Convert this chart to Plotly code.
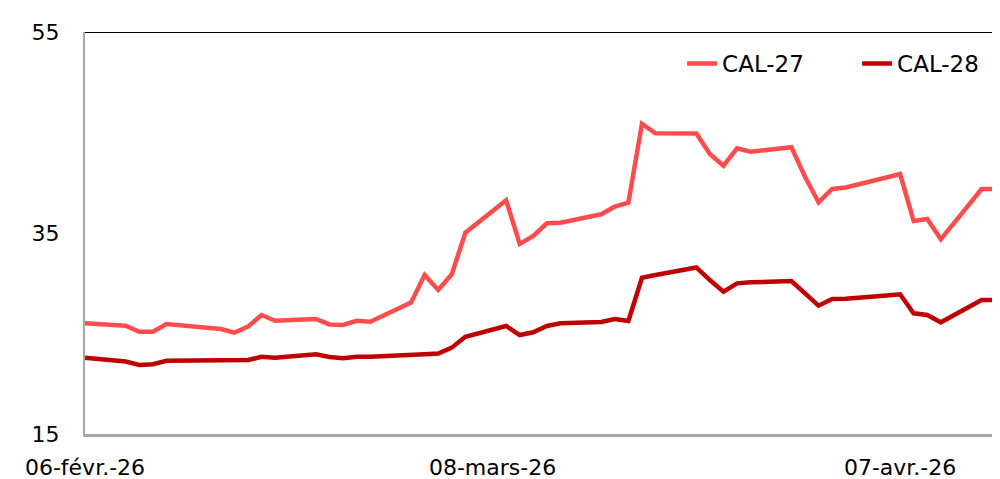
import plotly.graph_objects as go

dates = [
    "2026-02-06", "2026-02-09", "2026-02-10", "2026-02-11", "2026-02-12", "2026-02-13",
    "2026-02-16", "2026-02-17", "2026-02-18", "2026-02-19", "2026-02-20",
    "2026-02-23", "2026-02-24", "2026-02-25", "2026-02-26", "2026-02-27",
    "2026-03-02", "2026-03-03", "2026-03-04", "2026-03-05", "2026-03-06",
    "2026-03-09", "2026-03-10", "2026-03-11", "2026-03-12", "2026-03-13",
    "2026-03-16", "2026-03-17", "2026-03-18", "2026-03-19", "2026-03-20",
    "2026-03-23", "2026-03-24", "2026-03-25", "2026-03-26", "2026-03-27",
    "2026-03-30", "2026-03-31", "2026-04-01", "2026-04-02", "2026-04-03",
    "2026-04-06", "2026-04-07", "2026-04-08", "2026-04-09", "2026-04-10",
    "2026-04-13", "2026-04-14",
]

cal27 = [
    26.01, 25.78, 25.18, 25.18, 25.95, 25.82,
    25.45, 25.08, 25.68, 26.84, 26.27,
    26.44, 25.90, 25.85, 26.27, 26.17,
    28.07, 30.82, 29.33, 30.89, 35.03,
    38.25, 33.91, 34.70, 35.97, 36.03,
    36.86, 37.62, 38.01, 45.85, 44.92,
    44.90, 42.86, 41.70, 43.43, 43.09,
    43.53, 40.60, 38.05, 39.38, 39.53,
    40.52, 40.87, 36.19, 36.39, 34.37,
    39.38, 39.38,
]

cal28 = [
    22.59, 22.21, 21.87, 21.94, 22.29, 22.29,
    22.28, 22.26, 22.36, 22.69, 22.59,
    22.93, 22.66, 22.53, 22.69, 22.69,
    22.81, 22.93, 23.01, 23.59, 24.68,
    25.75, 24.85, 25.12, 25.75, 26.01,
    26.14, 26.44, 26.24, 30.55, 30.82,
    31.57, 30.32, 29.16, 29.99, 30.09,
    30.22, 29.03, 27.77, 28.43, 28.46,
    28.78, 28.90, 27.01, 26.84, 26.11,
    28.33, 28.33,
]

x_tickvals = ["2026-02-06", "2026-03-08", "2026-04-07"]
x_ticktext = ["06-févr.-26", "08-mars-26", "07-avr.-26"]
y_tickvals = [15, 35, 55]

FONT = "DejaVu Sans"

fig = go.Figure()
fig.add_trace(go.Scatter(x=dates, y=cal27, mode="lines", name="CAL-27",
                         line=dict(color="#FF4D4D", width=4.5)))
fig.add_trace(go.Scatter(x=dates, y=cal28, mode="lines", name="CAL-28",
                         line=dict(color="#C00000", width=4.5)))

fig.add_shape(type="line", xref="paper", yref="y", x0=0, x1=1, y0=55, y1=55,
              line=dict(color="#000000", width=2), layer="above")

# The page body has an 8px margin; the figure is sized to fill the rest.
fig.update_layout(
    width=992, height=471,
    margin=dict(l=77, r=2, t=24, b=45, autoexpand=False),
    paper_bgcolor="white", plot_bgcolor="white",
    font=dict(family=FONT, size=22, color="#000000"),
    showlegend=True,
    legend=dict(orientation="h", x=0.654, xanchor="left", y=0.975, yanchor="top",
                font=dict(family=FONT, size=23, color="#000000"),
                bgcolor="rgba(0,0,0,0)", entrywidth=130, entrywidthmode="pixels",
                tracegroupgap=0),
    xaxis=dict(type="date", range=["2026-02-06", "2026-04-14 05:00"],
               tickmode="array", tickvals=x_tickvals, ticktext=x_ticktext,
               showgrid=False, zeroline=False, showline=True, automargin=False,
               linecolor="#A6A6A6", linewidth=3, ticks="",
               ticklabelstandoff=12, tickfont=dict(family=FONT, size=22, color="#000000")),
    yaxis=dict(range=[15, 55], tickmode="array", tickvals=y_tickvals,
               showgrid=False, zeroline=False, showline=True, automargin=False,
               linecolor="#A6A6A6", linewidth=2, ticks="",
               ticklabelstandoff=19, tickfont=dict(family=FONT, size=22, color="#000000")),
)

fig.write_html("out.html")
